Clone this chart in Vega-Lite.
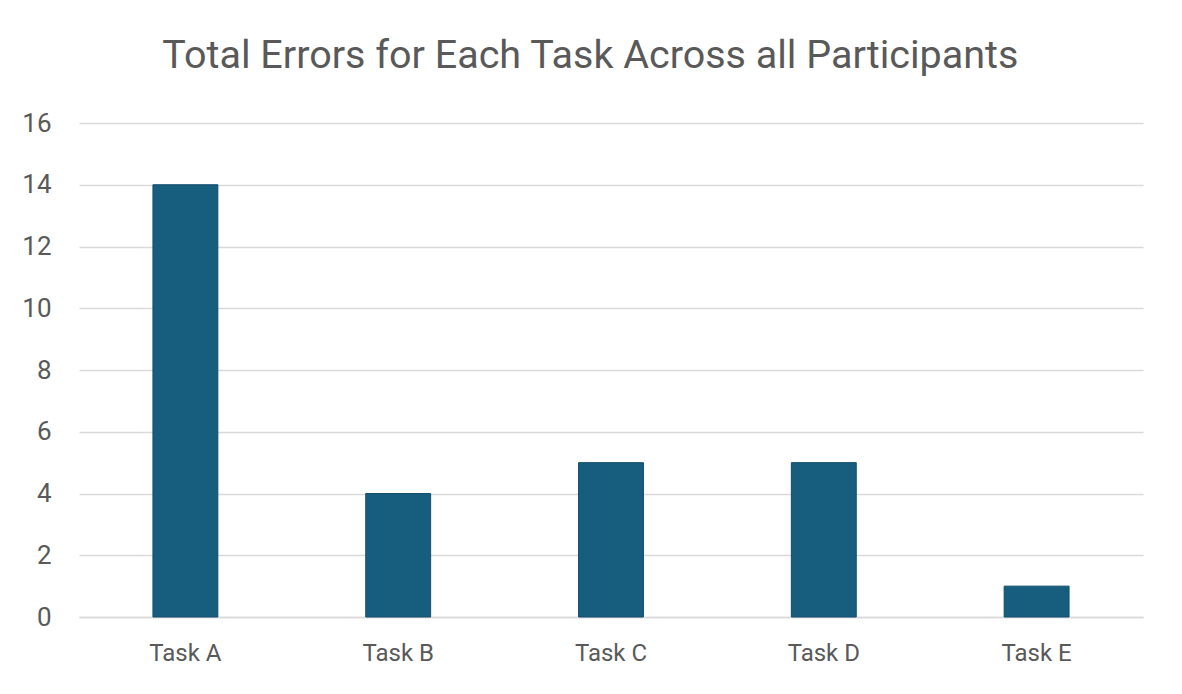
{
  "$schema": "https://vega.github.io/schema/vega-lite/v6.json",
  "autosize": {"type": "none"},
  "width": 1064,
  "height": 494,
  "padding": {"left": 79, "top": 123, "right": 39, "bottom": 77},
  "background": "#ffffff",
  "title": {
    "text": "Total Errors for Each Task Across all Participants",
    "font": "Roboto",
    "fontSize": 39.5,
    "fontWeight": "normal",
    "color": "#595959",
    "anchor": "middle",
    "frame": "bounds",
    "baseline": "alphabetic",
    "offset": 3,
    "dx": 8
  },
  "data": {
    "values": [
      {"task": "Task A", "errors": 14},
      {"task": "Task B", "errors": 4},
      {"task": "Task C", "errors": 5},
      {"task": "Task D", "errors": 5},
      {"task": "Task E", "errors": 1}
    ]
  },
  "mark": {"type": "bar", "color": "#165D7E", "stroke": "#124F6C", "strokeWidth": 1},
  "encoding": {
    "x": {
      "field": "task",
      "type": "nominal",
      "sort": null,
      "scale": {"paddingInner": 0.695, "paddingOuter": 0.3475},
      "axis": {
        "title": null,
        "labelAngle": 0,
        "ticks": false,
        "domain": true,
        "domainColor": "#d9d9d9",
        "domainWidth": 1.5,
        "labelFont": "Roboto",
        "labelFontSize": 24,
        "labelColor": "#595959",
        "labelPadding": 24
      }
    },
    "y": {
      "field": "errors",
      "type": "quantitative",
      "scale": {"domain": [0, 16]},
      "axis": {
        "title": null,
        "values": [0, 2, 4, 6, 8, 10, 12, 14, 16],
        "ticks": false,
        "domain": false,
        "grid": true,
        "gridColor": "#d9d9d9",
        "gridWidth": 1.5,
        "labelFont": "Roboto",
        "labelFontSize": 26,
        "labelColor": "#595959",
        "labelPadding": 28
      }
    }
  },
  "config": {"view": {"stroke": null}}
}
